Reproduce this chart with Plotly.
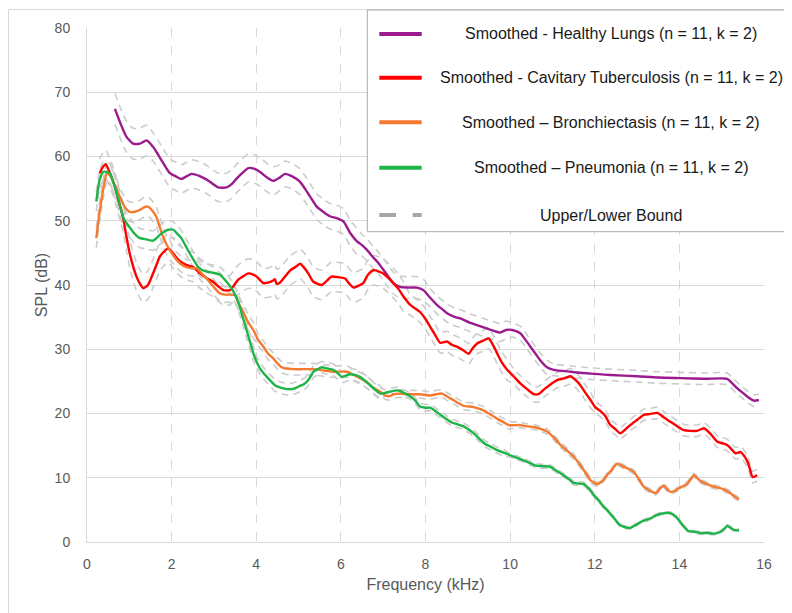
import plotly.graph_objects as go

# ---------------- data ----------------
healthy_x = [0.66, 0.80, 0.93, 1.09, 1.25, 1.41, 1.56, 1.68, 1.80, 1.96, 2.10, 2.23, 2.35, 2.47, 2.65, 2.83,
             3.10, 3.30, 3.42, 3.54, 3.68, 3.81, 3.95, 4.09, 4.28, 4.40, 4.55, 4.68, 4.85, 5.03, 5.15, 5.27,
             5.43, 5.58, 5.74, 5.90, 6.06, 6.22, 6.38, 6.50, 6.61, 6.75, 6.89, 7.09, 7.24, 7.40, 7.60, 7.80,
             7.95, 8.10, 8.27, 8.40, 8.51, 8.70, 8.82, 9.06, 9.20, 9.37, 9.60, 9.77, 9.90, 10.05, 10.24, 10.36,
             10.48, 10.60, 10.71, 10.87, 11.03, 11.43, 11.90, 12.37, 13.00, 13.50, 14.03, 14.60, 15.13, 15.25,
             15.37, 15.50, 15.61, 15.76, 15.88]
healthy_y = [67.4, 65.0, 63.1, 62.0, 62.0, 62.5, 61.5, 60.3, 59.0, 57.4, 56.9, 56.5, 56.9, 57.3, 57.0, 56.4,
             55.2, 55.2, 55.7, 56.6, 57.5, 58.2, 58.1, 57.6, 56.6, 56.2, 56.7, 57.3, 56.9, 56.1, 55.0, 53.8,
             52.2, 51.4, 50.7, 50.4, 49.9, 48.1, 46.8, 46.2, 45.5, 44.4, 43.4, 41.6, 40.3, 39.7, 39.6, 39.6,
             39.2, 38.1, 36.9, 36.2, 35.6, 35.0, 34.8, 34.1, 33.8, 33.4, 32.9, 32.6, 33.0, 33.0, 32.5, 31.5,
             30.4, 29.3, 28.3, 27.2, 26.8, 26.5, 26.2, 26.0, 25.8, 25.6, 25.5, 25.4, 25.4, 24.7,
             23.9, 23.2, 22.6, 22.0, 22.1]

tb_x = [0.30, 0.37, 0.44, 0.55, 0.66, 0.75, 0.85, 0.93, 1.01, 1.09, 1.17, 1.25, 1.33, 1.44, 1.56, 1.64,
        1.72, 1.82, 1.92, 2.04, 2.15, 2.27, 2.40, 2.51, 2.67, 2.82, 2.98, 3.10, 3.22, 3.38, 3.48, 3.57,
        3.70, 3.81, 3.90, 4.01, 4.17, 4.30, 4.40, 4.44, 4.48, 4.55, 4.68, 4.81, 4.95, 5.04, 5.13, 5.23,
        5.35, 5.55, 5.66, 5.78, 5.95, 6.10, 6.20, 6.30, 6.45, 6.53, 6.64, 6.77, 6.90, 7.00, 7.12, 7.24,
        7.36, 7.48, 7.64, 7.87, 8.00, 8.11, 8.23, 8.35, 8.51, 8.62, 8.74, 8.90, 9.02, 9.12, 9.22, 9.35,
        9.49, 9.60, 9.69, 9.80, 9.93, 10.08, 10.24, 10.40, 10.56, 10.67, 10.83, 10.97, 11.11, 11.30, 11.43, 11.55,
        11.66, 11.78, 11.90, 12.01, 12.13, 12.25, 12.37, 12.50, 12.60, 12.72, 12.84, 13.00, 13.16, 13.30, 13.48, 13.63,
        13.79, 13.95, 14.11, 14.25, 14.42, 14.58, 14.74, 14.90, 15.05, 15.13, 15.25, 15.33, 15.45, 15.53, 15.61, 15.67,
        15.73, 15.84]
tb_y = [57.4, 58.3, 58.8, 57.3, 55.3, 53.0, 50.6, 47.6, 44.9, 42.9, 41.3, 40.2, 39.5, 40.0, 41.8, 43.1,
        44.4, 45.2, 45.7, 44.9, 44.0, 43.4, 43.0, 42.8, 41.8, 41.1, 40.5, 39.8, 39.2, 39.2, 40.0, 40.8,
        41.4, 41.8, 41.7, 41.3, 40.3, 40.4, 40.7, 40.9, 40.2, 40.3, 41.3, 42.3, 42.9, 43.3, 42.7, 41.8,
        40.5, 40.0, 40.6, 41.3, 41.2, 41.0, 40.2, 39.6, 40.0, 40.3, 41.6, 42.3, 42.1, 41.8, 41.1, 40.3,
        39.4, 38.2, 36.9, 35.8, 34.7, 33.5, 32.2, 31.0, 31.2, 30.7, 30.4, 29.8, 29.3, 30.2, 30.9, 31.3,
        31.7, 30.6, 29.4, 28.0, 26.8, 25.8, 24.7, 23.8, 23.0, 23.0, 23.9, 24.6, 25.2, 25.5, 25.8, 25.2,
        24.4, 23.2, 22.1, 21.0, 20.4, 19.6, 18.2, 17.5, 16.9, 17.5, 18.2, 19.0, 19.8, 19.9, 20.1, 19.4,
        18.7, 18.0, 17.4, 17.3, 17.3, 17.7, 16.8, 15.6, 15.3, 15.1, 14.3, 13.8, 14.0, 13.4, 12.5, 11.3,
        10.1, 10.4]

bronch_x = [0.22, 0.28, 0.34, 0.40, 0.47, 0.55, 0.62, 0.72, 0.81, 0.91, 1.01, 1.13, 1.25, 1.35, 1.44, 1.54,
            1.64, 1.72, 1.80, 1.88, 1.96, 2.04, 2.12, 2.23, 2.35, 2.47, 2.59, 2.71, 2.83, 2.98, 3.14, 3.26,
            3.38, 3.50, 3.61, 3.69, 3.81, 3.93, 4.05, 4.17, 4.28, 4.40, 4.50, 4.60, 4.70, 4.88, 5.10, 5.35,
            5.59, 5.82, 6.14, 6.30, 6.45, 6.61, 6.77, 6.93, 7.05, 7.16, 7.24, 7.40, 7.64, 7.87, 8.11, 8.25,
            8.39, 8.52, 8.66, 8.78, 8.90, 9.14, 9.37, 9.52, 9.69, 9.83, 9.97, 10.24, 10.40, 10.56, 10.72, 10.87,
            11.03, 11.19, 11.35, 11.50, 11.62, 11.74, 11.82, 11.90, 12.06, 12.21, 12.29, 12.41, 12.53, 12.69, 12.80, 12.92,
            13.04, 13.16, 13.30, 13.44, 13.54, 13.63, 13.71, 13.79, 13.90, 14.03, 14.19, 14.27, 14.34, 14.46, 14.58, 14.70,
            14.82, 15.05, 15.21, 15.30, 15.41]
bronch_y = [47.3, 50.5, 53.2, 55.5, 57.4, 57.0, 56.1, 54.6, 53.2, 52.0, 51.4, 51.4, 51.7, 52.1, 52.2, 51.6,
            50.6, 49.0, 47.5, 46.3, 45.4, 44.6, 43.9, 43.2, 42.8, 42.6, 42.6, 41.8, 41.0, 39.8, 38.7, 38.5,
            38.5, 38.4, 36.8, 35.8, 34.2, 33.0, 31.4, 30.4, 29.3, 28.6, 27.8, 27.2, 27.0, 26.9, 26.9, 26.9,
            26.7, 26.5, 26.5, 26.0, 25.5, 24.9, 24.0, 23.4, 22.8, 22.7, 23.0, 23.1, 23.0, 23.0, 22.8, 23.0,
            23.1, 22.6, 22.1, 21.6, 21.2, 21.0, 20.5, 19.9, 19.2, 18.7, 18.2, 18.2, 18.0, 17.9, 17.6, 17.2,
            16.3, 15.1, 14.2, 13.3, 12.3, 11.2, 10.4, 9.6, 9.0, 9.7, 10.4, 11.3, 12.2, 11.7, 11.4, 10.9,
            9.8, 8.6, 8.0, 7.6, 8.3, 8.8, 8.2, 7.8, 8.0, 8.5, 9.1, 9.8, 10.4, 9.7, 9.2, 8.9,
            8.6, 8.2, 7.6, 7.1, 6.6]

pneu_x = [0.22, 0.30, 0.38, 0.46, 0.54, 0.62, 0.70, 0.78, 0.85, 0.95, 1.05, 1.15, 1.25, 1.41, 1.56, 1.64,
          1.72, 1.82, 1.92, 2.04, 2.13, 2.23, 2.33, 2.43, 2.53, 2.63, 2.73, 2.83, 2.98, 3.14, 3.30, 3.38,
          3.46, 3.54, 3.61, 3.69, 3.77, 3.85, 3.93, 4.01, 4.09, 4.17, 4.25, 4.35, 4.44, 4.54, 4.64, 4.74,
          4.84, 4.94, 5.03, 5.11, 5.19, 5.27, 5.35, 5.45, 5.55, 5.68, 5.82, 5.92, 6.02, 6.12, 6.22, 6.33,
          6.45, 6.57, 6.69, 6.81, 6.93, 7.04, 7.16, 7.32, 7.40, 7.52, 7.64, 7.76, 7.87, 8.00, 8.11, 8.23,
          8.35, 8.48, 8.62, 8.76, 8.90, 9.02, 9.14, 9.27, 9.40, 9.55, 9.69, 9.85, 10.00, 10.16, 10.32, 10.46,
          10.60, 10.78, 10.95, 11.07, 11.19, 11.35, 11.50, 11.62, 11.74, 11.86, 11.98, 12.10, 12.21, 12.37, 12.48, 12.60,
          12.72, 12.84, 12.96, 13.08, 13.20, 13.32, 13.44, 13.55, 13.67, 13.79, 13.87, 13.95, 14.07, 14.19, 14.35, 14.50,
          14.66, 14.82, 14.98, 15.05, 15.13, 15.21, 15.29, 15.41]
pneu_y = [53.0, 56.4, 57.6, 57.6, 57.4, 56.0, 54.3, 52.4, 50.6, 49.5, 48.6, 47.8, 47.3, 47.1, 46.9, 47.3,
          47.8, 48.3, 48.6, 48.6, 48.0, 47.3, 46.1, 44.9, 43.8, 42.8, 42.3, 42.1, 41.9, 41.6, 40.5, 39.8,
          39.0, 37.9, 36.6, 34.8, 33.0, 31.2, 29.4, 28.0, 27.0, 26.3, 25.7, 25.0, 24.4, 24.1, 23.9, 23.8,
          23.8, 24.0, 24.3, 24.5, 24.9, 25.6, 26.5, 26.9, 27.2, 27.0, 26.8, 26.3, 25.7, 25.9, 26.1, 26.0,
          25.7, 25.1, 24.4, 23.7, 23.1, 23.2, 23.4, 23.6, 23.5, 23.1, 22.7, 22.0, 21.1, 20.9, 20.9, 20.4,
          19.8, 19.2, 18.6, 18.3, 18.0, 17.5, 16.9, 16.1, 15.3, 14.8, 14.3, 13.9, 13.5, 13.1, 12.7, 12.3,
          11.9, 11.8, 11.7, 11.2, 10.7, 10.0, 9.2, 9.1, 9.0, 8.3, 7.3, 6.4, 5.5, 4.4, 3.5, 2.6,
          2.3, 2.2, 2.6, 3.1, 3.4, 3.7, 4.1, 4.4, 4.5, 4.5, 4.2, 3.7, 2.7, 1.8, 1.6, 1.4,
          1.4, 1.3, 1.6, 2.0, 2.5, 2.2, 1.9, 1.8]

# half-width of the upper/lower band, read per frequency range (range starts in kHz)
healthy_band_from = [0.0, 1.5, 4.5, 6.5, 8.0, 10.0, 11.0]
healthy_band = [2.4, 2.2, 2.0, 1.7, 1.4, 1.1, 0.9]
tb_band_from = [0.0, 2.0, 7.5, 10.0, 12.0]
tb_band = [2.2, 2.3, 1.6, 1.2, 0.9]
bronch_band_from = [0.0, 2.0, 4.0, 7.0, 10.0, 12.0]
bronch_band = [1.5, 1.2, 0.9, 0.6, 0.4, 0.3]
pneu_band_from = [0.0, 2.0, 4.0, 7.0, 10.0, 12.0]
pneu_band = [1.5, 1.2, 0.9, 0.5, 0.3, 0.2]

legend_names = [
    "Smoothed - Healthy Lungs (n = 11, k = 2)",
    "Smoothed - Cavitary Tuberculosis (n = 11, k = 2)",
    "Smoothed \u2013 Bronchiectasis (n = 11, k = 2)",
    "Smoothed \u2013 Pneumonia (n = 11, k = 2)",
    "Upper/Lower Bound",
]
x_ticks = [0, 2, 4, 6, 8, 10, 12, 14, 16]
y_ticks = [0, 10, 20, 30, 40, 50, 60, 70, 80]

# ---------------- styling ----------------
COLORS = ["#9b1b8f", "#ff0000", "#f47a30", "#1db548"]
BOUND_COLOR = "#cccccc"
GRID = "#d9d9d9"
TICK_FONT = dict(family="Liberation Sans, Arial, sans-serif", size=14, color="#595959")
TITLE_FONT = dict(family="Liberation Sans, Arial, sans-serif", size=16, color="#595959")

# the page body adds an 8px offset; figure is sized so window positions match the reference
OFF = 8
W, H = 792 - OFF, 613 - OFF
L, R, T, B = 87.0, 764.0, 28.0, 542.0   # plot area in window pixels


def band_at(x, starts, widths):
    w = widths[0]
    for s, v in zip(starts, widths):
        if x >= s:
            w = v
    return w


def px_x(p):
    return (p - L) / (R - L)


def px_y(p):
    return (B - p) / (B - T)


series = [
    (healthy_x, healthy_y, healthy_band_from, healthy_band),
    (tb_x, tb_y, tb_band_from, tb_band),
    (bronch_x, bronch_y, bronch_band_from, bronch_band),
    (pneu_x, pneu_y, pneu_band_from, pneu_band),
]

fig = go.Figure()

# bounds first (behind)
for xs, ys, bf, bw in series:
    up = [y + band_at(x, bf, bw) for x, y in zip(xs, ys)]
    lo = [y - band_at(x, bf, bw) for x, y in zip(xs, ys)]
    for arr in (up, lo):
        fig.add_trace(go.Scatter(x=xs, y=arr, mode="lines", showlegend=False, hoverinfo="skip",
                                 line=dict(color=BOUND_COLOR, width=1.6, dash="7px,5px", shape="spline",
                                           smoothing=0.6)))

for (xs, ys, _, _), c, n in zip(series, COLORS, legend_names):
    fig.add_trace(go.Scatter(x=xs, y=ys, mode="lines", name=n, showlegend=False,
                             line=dict(color=c, width=2.4, shape="spline", smoothing=0.6)))

shapes = []
# outer chart frame
shapes.append(dict(type="rect", xref="paper", yref="paper", x0=px_x(8.5), x1=px_x(805), y0=px_y(630),
                   y1=px_y(9.5), line=dict(color="#d9d9d9", width=1), fillcolor="rgba(0,0,0,0)", layer="below"))
# legend box
shapes.append(dict(type="rect", xref="paper", yref="paper", x0=px_x(367.3), x1=px_x(810), y0=px_y(231.7),
                   y1=px_y(10), line=dict(color="#ababab", width=1), fillcolor="white", layer="above"))

annotations = []
row_y = [34, 77.7, 122.3, 167.7, 215]
for i, (name, yy) in enumerate(zip(legend_names, row_y)):
    if i < 4:
        shapes.append(dict(type="line", xref="paper", yref="paper", x0=px_x(379.3), x1=px_x(421.7),
                           y0=px_y(yy), y1=px_y(yy), line=dict(color=COLORS[i], width=4), layer="above"))
    else:
        shapes.append(dict(type="line", xref="paper", yref="paper", x0=px_x(379.3), x1=px_x(396),
                           y0=px_y(yy), y1=px_y(yy), line=dict(color="#a6a6a6", width=4), layer="above"))
        shapes.append(dict(type="line", xref="paper", yref="paper", x0=px_x(412.7), x1=px_x(421.7),
                           y0=px_y(yy), y1=px_y(yy), line=dict(color="#a6a6a6", width=4), layer="above"))
    annotations.append(dict(text=name, xref="paper", yref="paper", x=px_x(611), y=px_y(yy), xanchor="center",
                            yanchor="middle", showarrow=False,
                            font=dict(family="Liberation Sans, Arial, sans-serif", size=16, color="#1a1a1a")))

fig.update_layout(
    width=W, height=H,
    margin=dict(l=L - OFF, r=W - (R - OFF), t=T - OFF, b=H - (B - OFF), autoexpand=False),
    paper_bgcolor="white", plot_bgcolor="white",
    showlegend=False,
    shapes=shapes, annotations=annotations,
    xaxis=dict(range=[0, 16], tickvals=x_ticks, ticktext=[str(v) for v in x_ticks], automargin=False,
               showgrid=True, gridcolor=GRID, griddash="dash", gridwidth=1,
               showline=True, linecolor=GRID, linewidth=1, zeroline=False,
               ticks="outside", ticklen=9, tickcolor="rgba(0,0,0,0)", tickfont=TICK_FONT,
               title=dict(text="Frequency (kHz)", font=TITLE_FONT, standoff=8)),
    yaxis=dict(range=[0, 80], tickvals=y_ticks, ticktext=[str(v) for v in y_ticks], automargin=False,
               showgrid=True, gridcolor=GRID, gridwidth=1,
               showline=True, linecolor=GRID, linewidth=1, zeroline=False,
               ticks="outside", ticklen=13, tickcolor="rgba(0,0,0,0)", tickfont=TICK_FONT,
               title=dict(text="SPL (dB)", font=TITLE_FONT, standoff=3)),
)

fig.write_html("out.html")
